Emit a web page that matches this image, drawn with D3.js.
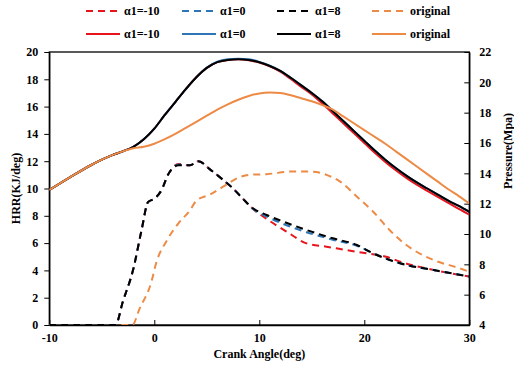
<!DOCTYPE html>
<html><head><meta charset="utf-8">
<script src="https://cdn.jsdelivr.net/npm/d3@7"></script>
<style>
html,body{margin:0;padding:0;background:#fff;}
text{font-family:"Liberation Serif","Times New Roman",serif;font-weight:bold;}
</style></head>
<body><svg id="c" width="514" height="374"></svg>
<script>
// ---- data ----
const xTicks = [-10, 0, 10, 20, 30];
const hrrTicks = [0, 2, 4, 6, 8, 10, 12, 14, 16, 18, 20];
const presTicks = [4, 6, 8, 10, 12, 14, 16, 18, 20, 22];

// HRR (dashed, left axis)
const hrrAngleA = [-10, -4, -3.7, -3, -2, -1.2, -0.6, 0, 0.7, 1.3, 2.3, 3.4, 4.2, 5.3, 6.6, 7.5, 8.5, 9.4, 10.7, 12.3, 14.5, 17, 19.3, 20.85, 23.4, 26.6, 30];
const hrrAlpha8 = [0, 0, 0, 1.7, 4.1, 7.0, 9.0, 9.25, 9.9, 11.0, 11.7, 11.7, 12.0, 11.4, 10.6, 10.0, 9.2, 8.55, 8.06, 7.57, 6.96, 6.35, 5.86, 5.25, 4.52, 4.03, 3.55];
const hrrAlpha0 = [0, 0, 0, 1.7, 4.1, 7.0, 9.0, 9.25, 9.9, 11.0, 11.75, 11.7, 12.0, 11.4, 10.6, 10.0, 9.2, 8.5, 7.95, 7.4, 6.8, 6.25, 5.8, 5.25, 4.52, 4.03, 3.55];
const hrrAngleR = [-10, -4, -3.7, -3, -2, -1.2, -0.6, 0, 0.7, 1.3, 2.3, 3.4, 4.2, 5.3, 6.6, 7.5, 8.5, 9.4, 10.4, 12.6, 14.5, 16.4, 18.3, 20.2, 22.1, 23.4, 26.6, 30];
const hrrAlphaM10 = [0, 0, 0, 1.7, 4.1, 7.0, 9.0, 9.25, 9.9, 11.0, 11.8, 11.7, 12.0, 11.4, 10.6, 10.0, 9.2, 8.5, 7.93, 6.84, 5.98, 5.74, 5.49, 5.25, 5.0, 4.64, 4.03, 3.55];
const hrrAngleO = [-10, -2.1, -1.4, -0.3, 0.2, 1.2, 2.3, 3.4, 4, 5.3, 6.6, 7.9, 9, 10.7, 13.2, 15.1, 16.4, 17.7, 19.3, 20.85, 22.4, 24, 26.6, 29.1, 30];
const hrrOriginal = [0, 0, 1.2, 3.1, 4.6, 6.2, 7.45, 8.4, 9.1, 9.55, 10.15, 10.75, 11.0, 11.05, 11.25, 11.23, 11.0, 10.5, 9.4, 8.3, 6.96, 5.86, 4.76, 4.15, 3.9];

// Pressure (solid, right axis)
const presAngle = [-10,-8,-6,-5,-4,-3,-2,-1,0,1,2,3,4,5,6,7,8,9,10,11,12,13,14,15,16,17,18,19,20,21,22,23,24,25,26,27,28,29,30];
const presAlpha8 = [12.9,13.75,14.55,14.9,15.2,15.45,15.75,16.25,16.95,17.85,18.7,19.55,20.33,20.95,21.33,21.48,21.52,21.48,21.32,21.08,20.75,20.3,19.8,19.3,18.75,18.1,17.45,16.8,16.15,15.5,14.9,14.35,13.85,13.4,13.0,12.6,12.2,11.85,11.45];
const presAlpha0 = [12.9,13.75,14.55,14.9,15.2,15.45,15.75,16.25,16.95,17.85,18.7,19.55,20.33,20.97,21.36,21.52,21.56,21.52,21.35,21.1,20.76,20.3,19.8,19.3,18.75,18.1,17.45,16.8,16.15,15.5,14.9,14.35,13.85,13.4,13.0,12.6,12.2,11.85,11.45];
const presAlphaM10 = [12.9,13.75,14.55,14.9,15.2,15.45,15.75,16.25,16.95,17.85,18.7,19.55,20.33,20.95,21.33,21.48,21.52,21.46,21.3,21.05,20.7,20.22,19.7,19.2,18.6,17.95,17.3,16.65,16.0,15.35,14.75,14.2,13.7,13.25,12.85,12.45,12.05,11.65,11.28];
const presOriginal = [12.9,13.75,14.55,14.9,15.2,15.45,15.65,15.75,15.95,16.25,16.6,17.0,17.4,17.8,18.2,18.55,18.85,19.1,19.27,19.33,19.3,19.15,18.95,18.75,18.5,18.2,17.75,17.3,16.85,16.4,15.95,15.45,14.95,14.45,13.95,13.45,12.95,12.5,12.02];

const legendLabels = ["α1=-10", "α1=0", "α1=8", "original"];
const colors = ["#e8141b", "#2e75b6", "#000000", "#ed8a45"];

// ---- chart ----
const svg = d3.select("#c");
const L = 49.3, R = 469.3, T = 52, B = 325;
const x = d3.scaleLinear().domain([-10, 30]).range([L, R]);
const yL = d3.scaleLinear().domain([0, 20]).range([B, T]);
const yR = d3.scaleLinear().domain([4, 22]).range([B, T]);

svg.append("defs").append("clipPath").attr("id", "clip")
  .append("rect").attr("x", L).attr("y", T - 2).attr("width", R - L).attr("height", B - T + 2);

// frame
svg.append("rect").attr("x", L).attr("y", T).attr("width", R - L).attr("height", B - T)
  .attr("fill", "none").attr("stroke", "#000").attr("stroke-width", 1.3);

const fs = 12;
const fmt = d => String(d);
// axes
const ax = svg.append("g").attr("transform", `translate(0,${B})`)
  .call(d3.axisBottom(x).tickValues(xTicks).tickFormat(fmt).tickSizeInner(-5).tickSizeOuter(0).tickPadding(8));
const ayl = svg.append("g").attr("transform", `translate(${L},0)`)
  .call(d3.axisLeft(yL).tickValues(hrrTicks).tickFormat(fmt).tickSizeInner(5).tickSizeOuter(0).tickPadding(6));
const ayr = svg.append("g").attr("transform", `translate(${R},0)`)
  .call(d3.axisRight(yR).tickValues(presTicks).tickFormat(fmt).tickSizeInner(-5).tickSizeOuter(0).tickPadding(10));
[ax, ayl, ayr].forEach(g => {
  g.attr("font-family", "Liberation Serif").attr("font-size", fs).attr("font-weight", "bold");
  g.selectAll("path.domain").attr("stroke", "#000").attr("stroke-width", 1.3);
  g.selectAll(".tick line").attr("stroke", "#000").attr("stroke-width", 1);
  g.selectAll(".tick text").attr("font-size", fs).attr("fill", "#000");
});

// titles
svg.append("text").attr("x", (L + R) / 2).attr("y", 358).attr("text-anchor", "middle")
  .attr("font-size", fs).text("Crank Angle(deg)");
svg.append("text").attr("transform", `translate(20,${(T + B) / 2}) rotate(-90)`).attr("text-anchor", "middle")
  .attr("font-size", fs).text("HRR(KJ/deg)");
svg.append("text").attr("transform", `translate(512,151) rotate(-90)`).attr("text-anchor", "middle")
  .attr("font-size", fs).text("Pressure(Mpa)");

const plot = svg.append("g").attr("clip-path", "url(#clip)");
function draw(xs, ys, yScale, color, dashed) {
  const pts = xs.map((a, i) => [a, ys[i]]);
  const line = d3.line().x(d => x(d[0])).y(d => yScale(d[1])).curve(d3.curveMonotoneX);
  plot.append("path").datum(pts).attr("d", line).attr("fill", "none")
    .attr("stroke", color).attr("stroke-width", 2)
    .attr("stroke-dasharray", dashed ? "7,5" : null);
}
draw(hrrAngleO, hrrOriginal, yL, colors[3], true);
draw(hrrAngleR, hrrAlphaM10, yL, colors[0], true);
draw(hrrAngleA, hrrAlpha0, yL, colors[1], true);
draw(hrrAngleA, hrrAlpha8, yL, colors[2], true);
draw(presAngle, presAlphaM10, yR, colors[0], false);
draw(presAngle, presAlpha0, yR, colors[1], false);
draw(presAngle, presAlpha8, yR, colors[2], false);
draw(presAngle, presOriginal, yR, colors[3], false);

// legend
const lx = [86, 182, 277, 372];
const rows = [11, 34];
rows.forEach((ry, r) => {
  legendLabels.forEach((lab, i) => {
    svg.append("line").attr("x1", lx[i]).attr("x2", lx[i] + 34).attr("y1", ry).attr("y2", ry)
      .attr("stroke", colors[i]).attr("stroke-width", 2)
      .attr("stroke-dasharray", r === 0 ? "7,5" : null);
    svg.append("text").attr("x", lx[i] + 38).attr("y", ry + 4).attr("font-size", fs).text(lab);
  });
});
</script></body></html>
